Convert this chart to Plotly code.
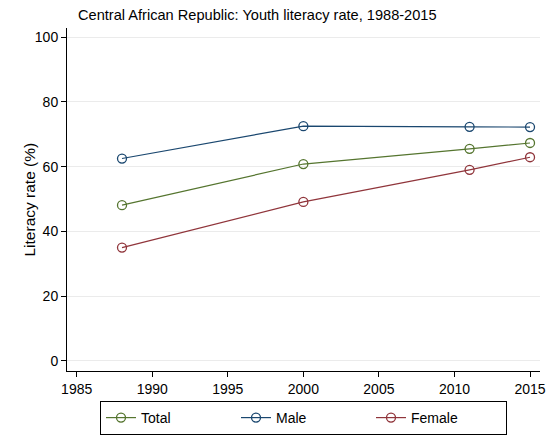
import plotly.graph_objects as go

years = [1988, 2000, 2011, 2015]
total = [48.1, 60.8, 65.5, 67.3]
male = [62.5, 72.5, 72.3, 72.2]
female = [35.0, 49.1, 59.0, 62.9]

series = [("Total", total, "#55752f"), ("Male", male, "#1a476f"), ("Female", female, "#90353b")]

fig = go.Figure()
for name, vals, col in series:
    fig.add_trace(go.Scatter(
        x=years, y=vals, name=name, mode="lines+markers",
        line=dict(color=col, width=1.2),
        marker=dict(symbol="circle-open", size=9, color=col, line=dict(width=1.3, color=col)),
    ))

W, H = 549, 435
ml, mr, mt, mb = 67, 9, 28, 64
pw = W - ml - mr
ph = H - mt - mb
fig.update_layout(
    width=W, height=H,
    margin=dict(l=ml, r=mr, t=mt, b=mb, autoexpand=False),
    paper_bgcolor="white", plot_bgcolor="white",
    font=dict(family="Liberation Sans, Arial, sans-serif", size=14, color="black"),
    title=dict(text="Central African Republic: Youth literacy rate, 1988-2015",
               x=78 / W, xanchor="left", xref="container",
               y=1 - 15 / H, yanchor="middle", yref="container", pad=dict(l=0, r=0, t=0, b=0),
               font=dict(size=14.6, color="black")),
    xaxis=dict(range=[1984.36, 2015.66], tickvals=[1985, 1990, 1995, 2000, 2005, 2010, 2015],
               showgrid=False, zeroline=False, showline=True, linecolor="black", linewidth=1,
               ticks="outside", ticklen=5, tickcolor="black", tickfont=dict(size=14), automargin=False),
    yaxis=dict(range=[-3.1, 102.8], tickvals=[0, 20, 40, 60, 80, 100],
               showgrid=True, gridcolor="#ebebeb", gridwidth=1, zeroline=False,
               showline=True, linecolor="black", linewidth=1,
               ticks="outside", ticklen=5, tickcolor="black", tickfont=dict(size=14), automargin=False),
    legend=dict(orientation="h", x=0.5, xanchor="center", y=-(401 - 371) / ph, yanchor="top",
                bordercolor="black", borderwidth=1, font=dict(size=14),
                entrywidth=90, entrywidthmode="pixels"),
    showlegend=True,
    annotations=[dict(text="Literacy rate (%)", textangle=-90, xref="paper", yref="paper",
                      x=(29 - ml) / pw, y=0.5, xanchor="center", yanchor="middle",
                      showarrow=False, font=dict(size=15.5))],
)

fig.write_html("out.html", config={"displayModeBar": False},
               post_script="document.body.style.margin='0';document.body.style.overflow='hidden';")
